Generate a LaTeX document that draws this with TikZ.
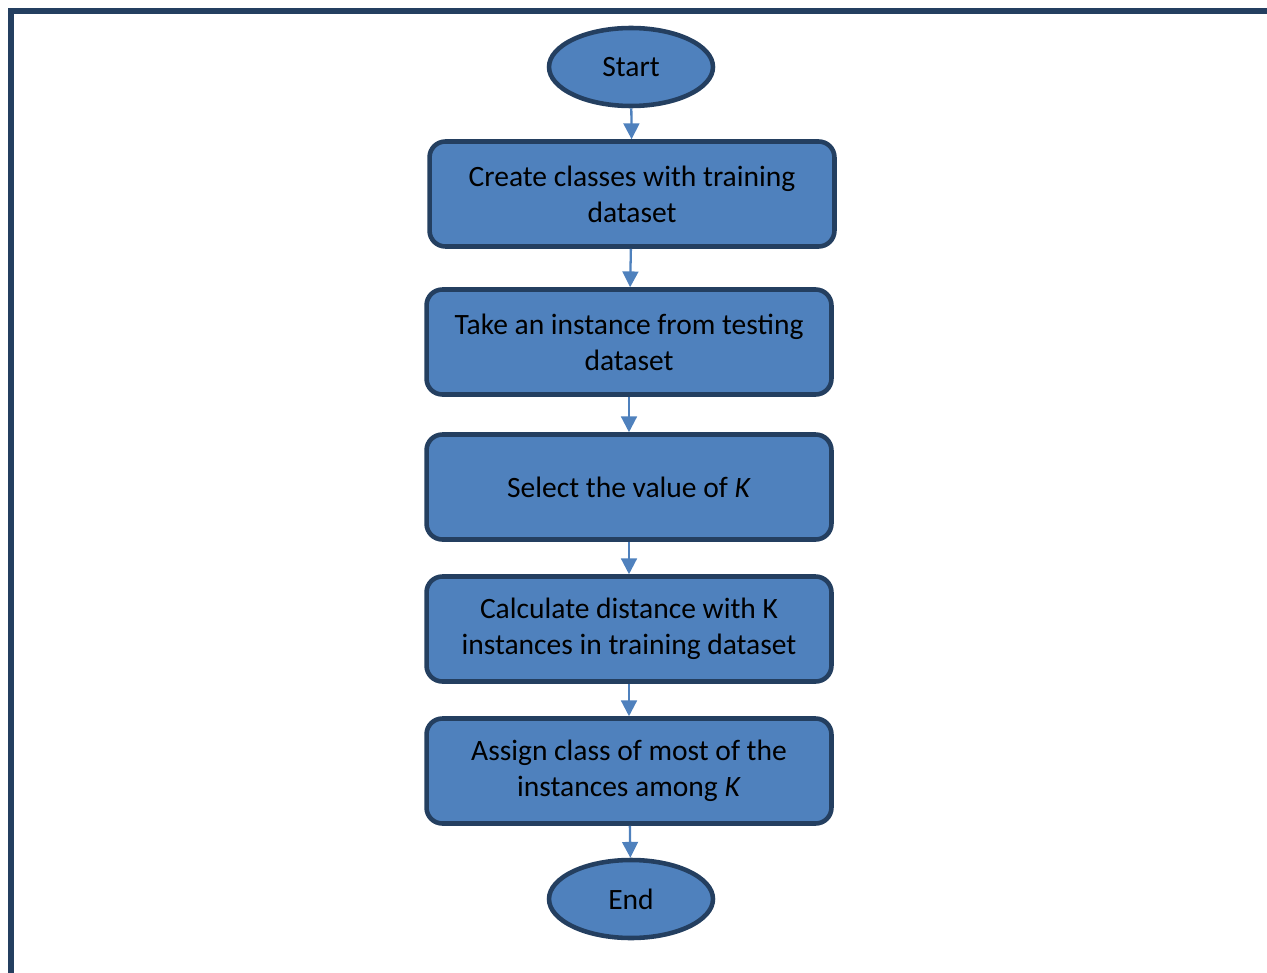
\documentclass[tikz,border=0pt]{standalone}
\usepackage{fontspec}
\setmainfont{Carlito}
\usepackage{tikz}
\usetikzlibrary{arrows.meta,shapes.geometric}
\definecolor{boxfill}{HTML}{4F81BD}
\definecolor{boxline}{HTML}{243F60}

\begin{document}
\begin{tikzpicture}[x=0.02cm,y=-0.02cm,
  every node/.style={font=\fontsize{16.8}{20.5}\selectfont},
  terminal/.style={ellipse,draw=boxline,line width=2.6pt,fill=boxfill,
    minimum width=3.28cm,minimum height=1.56cm,inner sep=0pt},
  stepbox/.style={rectangle,rounded corners=9pt,draw=boxline,line width=2.6pt,fill=boxfill,
    minimum width=8.1cm,minimum height=2.1cm,align=center,inner sep=0pt},
  flow/.style={draw=boxfill,line width=1.3pt,-{Triangle[length=9pt,width=9pt]}}]
\useasboundingbox (0,0) rectangle (1267,973);
\draw[boxline,line width=3pt] (11,985) -- (11,11) -- (1280,11);
\node[terminal] (start) at (631,67) {Start};
\node[stepbox] (create) at (632,194) {Create classes with training\\dataset};
\node[stepbox] (take) at (629,342) {Take an instance from testing\\dataset};
\node[stepbox] (select) at (629,487) {Select the value of \textit{K}};
\node[stepbox] (calc) at (629,629) {Calculate distance with K\\instances in training dataset};
\node[stepbox] (assign) at (629,771) {Assign class of most of the\\instances among \textit{K}};
\node[terminal] (end) at (631,899) {End};
\draw[flow] (start) -- (create);
\draw[flow] (create) -- (take);
\draw[flow] (take) -- (select);
\draw[flow] (select) -- (calc);
\draw[flow] (calc) -- (assign);
\draw[flow] (assign) -- (end);
\end{tikzpicture}
\end{document}
